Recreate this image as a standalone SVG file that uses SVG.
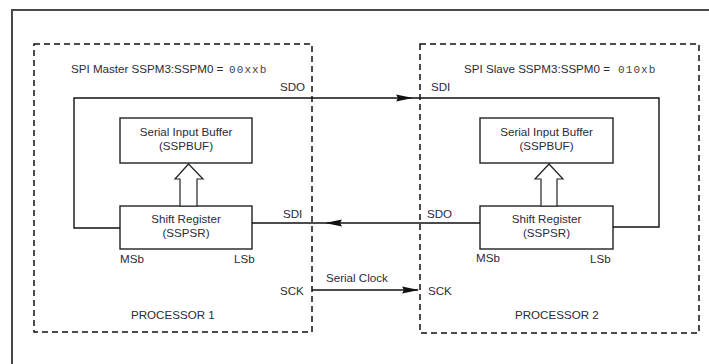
<svg xmlns="http://www.w3.org/2000/svg" width="709" height="364" viewBox="0 0 709 364">
<style>
  .frame { fill: none; stroke: #4a4a4a; stroke-width: 2; }
  .dash { fill: none; stroke: #111; stroke-width: 1.5; stroke-dasharray: 6 4; }
  .box { fill: #fff; stroke: #222; stroke-width: 1.4; }
  .wire { fill: none; stroke: #111; stroke-width: 1.4; }
  .hollow { fill: #fff; stroke: #222; stroke-width: 1.2; }
  .ah { fill: #111; }
  text { font-family: "Liberation Sans", Arial, sans-serif; font-size: 11.6px; fill: #2a2a38; }
  .mono { font-family: "Liberation Mono", "Courier New", monospace; font-size: 11px; letter-spacing: 1.1px; fill: #444; }
  .c { text-anchor: middle; }
</style>
<defs>
  <path id="arrowR" d="M0,0 L-17,-3.5 L-15,0 L-17,3.5 Z"/>
</defs>

<path class="frame" d="M12,364 V10 H709"/>

<g id="master">
  <rect class="dash" x="34" y="44" width="278" height="288"/>
  <text x="71" y="73">SPI Master SSPM3:SSPM0 = <tspan class="mono" x="229">00xxb</tspan></text>
  <text x="131" y="319">PROCESSOR 1</text>
  <text x="280" y="91">SDO</text>
  <text x="283" y="218">SDI</text>
  <text x="280" y="295">SCK</text>
</g>

<g id="master-buffer">
  <rect class="box" x="120" y="118" width="132" height="45"/>
  <text class="c" x="186" y="136">Serial Input Buffer</text>
  <text class="c" x="186" y="149.5">(SSPBUF)</text>
</g>

<g id="master-shift">
  <rect class="box" x="120" y="206" width="132" height="43"/>
  <text class="c" x="186" y="223">Shift Register</text>
  <text class="c" x="186" y="237">(SSPSR)</text>
  <text x="120" y="263">MSb</text>
  <text x="234" y="263">LSb</text>
</g>

<g id="slave">
  <rect class="dash" x="420" y="44" width="279" height="289"/>
  <text x="464" y="73">SPI Slave SSPM3:SSPM0 = <tspan class="mono" x="618">010xb</tspan></text>
  <text x="515" y="319">PROCESSOR 2</text>
  <text x="431" y="91">SDI</text>
  <text x="427" y="218">SDO</text>
  <text x="428" y="295">SCK</text>
</g>

<g id="slave-buffer">
  <rect class="box" x="480" y="118" width="133" height="45"/>
  <text class="c" x="546.5" y="136">Serial Input Buffer</text>
  <text class="c" x="546.5" y="149.5">(SSPBUF)</text>
</g>

<g id="slave-shift">
  <rect class="box" x="480" y="206" width="133" height="43"/>
  <text class="c" x="546.5" y="223">Shift Register</text>
  <text class="c" x="546.5" y="237">(SSPSR)</text>
  <text x="476" y="262">MSb</text>
  <text x="590" y="263">LSb</text>
</g>

<g id="connectors">
  <path class="wire" d="M120,228 H74 V98 H659 V227 H613"/>
  <use href="#arrowR" class="ah" transform="translate(413,98)"/>
  <path class="wire" d="M252,223 H480"/>
  <use href="#arrowR" class="ah" transform="translate(325,223) scale(-1,1)"/>
  <path class="wire" d="M312,290 H418"/>
  <use href="#arrowR" class="ah" transform="translate(419,290)"/>
  <text x="326" y="282">Serial Clock</text>
  <polygon class="hollow" points="188.5,164 175,179 180,179 180,206 197,206 197,179 203,179"/>
  <polygon class="hollow" points="549,164 535,179 541,179 541,206 557,206 557,179 563,179"/>
</g>
</svg>
